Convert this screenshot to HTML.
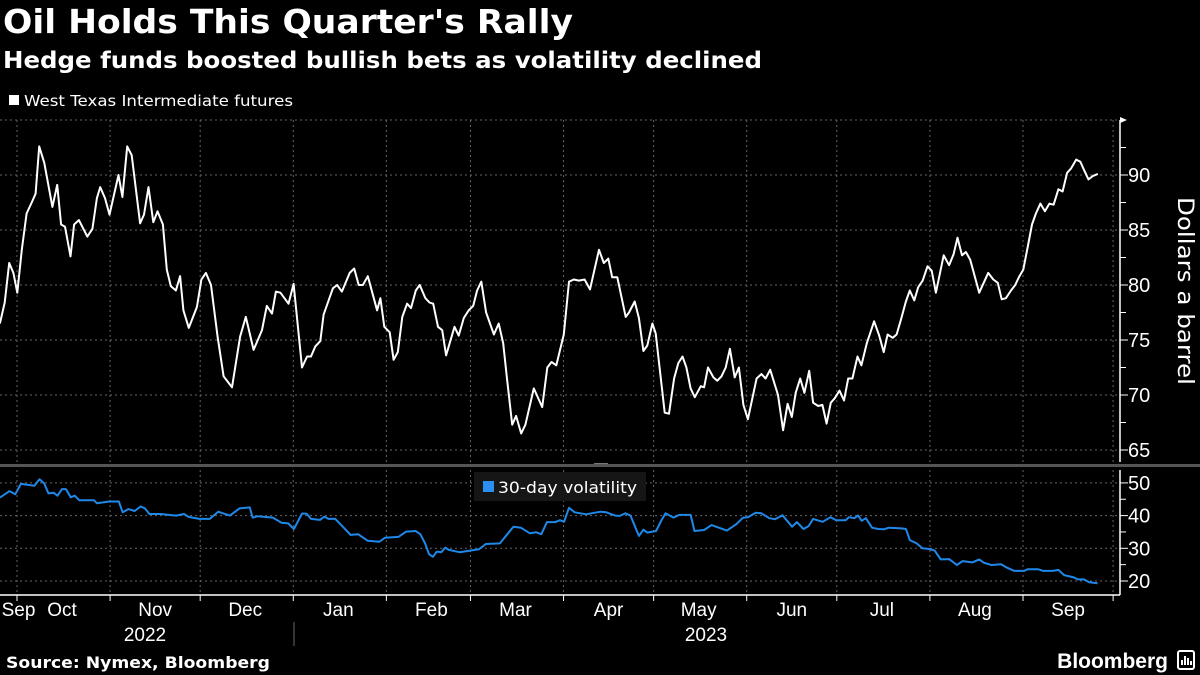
<!DOCTYPE html>
<html><head><meta charset="utf-8"><style>
html,body{margin:0;padding:0;background:#000;width:1200px;height:675px;overflow:hidden}
svg{display:block}
text{font-family:"Liberation Sans",sans-serif}
.dv{font-family:"DejaVu Sans","Liberation Sans",sans-serif}
</style></head><body>
<svg id="c" width="1200" height="675" viewBox="0 0 1200 675">
<text class="dv" x="3" y="33" fill="#fff" font-size="33" font-weight="bold" textLength="570" lengthAdjust="spacingAndGlyphs">Oil Holds This Quarter's Rally</text>
<text class="dv" x="3" y="68" fill="#fff" font-size="23" font-weight="bold" textLength="759" lengthAdjust="spacingAndGlyphs">Hedge funds boosted bullish bets as volatility declined</text>
<rect x="9" y="95" width="10" height="10" fill="#fff"/>
<text class="dv" x="24" y="106" fill="#fff" font-size="15" textLength="269" lengthAdjust="spacingAndGlyphs">West Texas Intermediate futures</text>
<g id="grid"></g>
<g id="axes"></g>
<rect x="0" y="464" width="1200" height="3" fill="#555"/>
<rect x="594" y="463" width="14" height="1" fill="#777"/>
<g id="series"></g>
<rect x="474" y="472" width="172" height="29" fill="#161616"/>
<rect x="483" y="481" width="11" height="11" fill="#2a8ff0"/>
<text class="dv" x="498" y="493" fill="#fff" font-size="16" textLength="139" lengthAdjust="spacingAndGlyphs">30-day volatility</text>
<text class="dv" transform="translate(1178,291) rotate(90)" text-anchor="middle" fill="#fff" font-size="22" textLength="188" lengthAdjust="spacingAndGlyphs">Dollars a barrel</text>
<text x="145" y="641" text-anchor="middle" fill="#fff" font-size="19">2022</text>
<text x="706" y="641" text-anchor="middle" fill="#fff" font-size="19">2023</text>
<line x1="294" y1="622" x2="294" y2="646" stroke="#666"/>
<text class="dv" x="6" y="668" fill="#fff" font-size="16" font-weight="bold" textLength="264" lengthAdjust="spacingAndGlyphs">Source: Nymex, Bloomberg</text>
<text x="1168" y="668" text-anchor="end" fill="#fff" font-size="21" font-weight="bold">Bloomberg</text>
<rect x="1178" y="651" width="16" height="18" rx="2" fill="none" stroke="#fff" stroke-width="2"/>
<path d="M1182 665V660M1185 665V656M1188 665V658M1191 665V661" stroke="#fff" stroke-width="2"/>
</svg>
<script>
const monthLabels=["Sep","Oct","Nov","Dec","Jan","Feb","Mar","Apr","May","Jun","Jul","Aug","Sep"];
const monthLabelDays=[0.5,15,46,76,107,138,166,197,227,258,288,319,350];
const monthTickDays=[0,31,61,92,123,151,182,212,243,273,304,335,365];
const priceTicks=[65,70,75,80,85,90];
const volTicks=[20,30,40,50];
const priceDays=[-5.7,-4.1,-2.6,-1.2,0.1,1.6,3.2,4.9,6.2,7.4,9.1,11.8,13.4,14.7,16,17.8,19,20.6,23.4,25.1,26.6,27.7,29.3,30.8,33.8,35.1,36.7,38.2,41,42.3,43.8,45.4,46.8,48.6,49.9,51.2,52.9,54.3,55.4,57.2,59.9,61.4,62.9,64.6,66.8,68.8,71.6,74.3,76.2,78.8,81.6,83.2,84.9,86.2,87.7,90.4,92.1,94.9,96.6,97.9,99.3,101,102.1,105.2,106.6,108.2,110.8,112.3,113.8,115.2,116.8,119.9,121,122.3,124.1,125.4,126.8,128.3,129.9,131.2,132.8,134.1,136,137.4,138.6,140.2,141.6,142.9,145.7,147.1,148.8,150.4,151.9,153.2,154.6,156.2,158.8,160.4,161.9,163.2,164.9,166.2,167.9,169.3,172.1,174.9,176.6,178,179.6,182.1,183.8,185.4,187.1,189,190.8,193.8,195.4,196.9,198.2,199.9,202.7,203.8,205.7,207.1,208.6,209.9,211.6,212.7,215.7,217.1,218.8,220.2,221.6,222.9,224.3,225.7,227.7,228.8,230.1,231.9,233.2,234.6,236,237.4,239,240.4,241.9,243.4,246.3,247.9,249.3,250.8,253.4,255.1,256.6,258,259.3,260.8,262.2,263.8,265.1,266.8,268.2,269.6,271,272.3,273.9,275.4,276.8,278.2,279.9,281.2,283,285.4,287.1,288.6,289.9,291.6,292.9,294.3,296,297.3,298.8,300.1,301.6,303.2,304.6,306,308.6,310.4,311.9,313.2,314.7,316,317.4,320.4,321.9,323.4,325.1,326.6,327.9,329.3,331,332.4,333.8,335.1,336.6,338,339.3,340.8,342.3,343.8,345.2,346.8,348.2,349.7,351,352.7,354.1,355.4,356.8,358.2,359.9];
const priceValues=[76.5,78.4,82.0,81.1,79.3,83.2,86.5,87.5,88.3,92.6,91.1,87.1,89.1,85.5,85.3,82.6,85.5,85.9,84.4,85.1,87.9,88.9,87.9,86.4,90.0,88.0,92.6,91.8,85.6,86.4,88.9,85.7,86.7,85.5,81.4,79.9,79.5,80.8,77.7,76.1,78.0,80.5,81.1,80.0,75.3,71.7,70.7,75.3,77.1,74.1,75.9,78.1,77.4,79.4,79.3,78.3,80.1,72.5,73.5,73.5,74.4,74.9,77.3,79.7,80.0,79.4,81.1,81.5,80.0,80.0,80.8,77.7,78.8,76.2,75.7,73.2,73.9,77.1,78.3,77.9,79.5,80.0,78.8,78.4,78.3,76.2,75.9,73.6,76.2,75.4,77.0,77.7,78.1,79.5,80.3,77.5,75.5,76.5,74.7,71.4,67.3,68.1,66.5,67.3,70.6,68.9,72.5,73.0,72.7,75.5,80.3,80.5,80.4,80.5,79.6,83.2,82.0,82.4,80.7,80.7,77.1,77.5,78.5,77.0,74.0,74.5,76.5,75.6,68.4,68.3,71.5,72.9,73.5,72.5,70.6,69.8,70.8,70.7,72.5,71.6,71.3,71.7,72.5,74.2,71.6,72.5,69.1,67.8,71.5,71.9,71.5,72.3,70.0,66.8,69.2,68.0,70.2,71.5,70.2,72.2,69.3,69.0,69.1,67.4,69.3,69.7,70.4,69.5,71.5,71.5,73.5,72.7,74.7,76.7,75.4,73.9,75.5,75.2,75.5,76.8,78.5,79.5,78.6,79.8,80.4,81.7,81.3,79.3,82.7,81.8,82.8,84.3,82.7,83.0,82.3,79.3,80.2,81.1,80.5,80.2,78.7,78.8,79.5,80.0,80.8,81.4,83.5,85.5,86.5,87.4,86.7,87.4,87.3,88.7,88.5,90.2,90.6,91.4,91.2,90.4,89.6,89.9,90.1];
const volDays=[-5.7,-2.5,-0.6,1.3,5.8,7.5,9,10.5,12.2,13.5,15,16.3,17.9,19.2,20.7,25.6,26.6,30.7,33.9,35.2,37.1,39.2,41.2,42.6,44.1,47.9,50.5,53,55.6,57.1,60.7,64.2,67,68.6,70.9,74.1,77.5,78.5,80.1,85.2,88.1,90.3,92.2,94.9,96.4,97.9,100.9,102.4,103.7,106,108.5,111.1,113.6,116.8,120.6,122.5,127,129.6,132.7,134.3,135.9,137.2,138.5,139.8,141.3,142.6,143.8,147.4,153.8,156.1,160.8,165.3,167.8,170.8,172.9,174.6,176.5,179.3,180.8,182.2,183.8,185.7,189.5,194.3,196.2,199.2,200.7,202.6,204.3,207.1,208.6,209.9,212.8,214.7,216,218.6,220.5,224.3,225.6,228.8,231.3,236.4,239.6,241.8,243.4,246,247.9,250.5,252.4,254.9,258.1,259.7,261.9,263.6,265.1,268.3,270.9,272.8,276,277,278.8,280.1,281.3,282.7,284.7,286.8,288.7,290.3,294.5,296,297.3,299.6,301.5,303.8,305.6,307.6,310.4,313,314.9,318.1,320.4,321.9,324.5,327.7,329.6,332.1,335.3,336.6,340,341.7,344.9,346.8,348.7,351.9,353.2,355.3,357,359.8];
const volValues=[45.5,47.5,46.5,49.7,49.1,51.1,49.9,46.8,47.0,46.1,48.1,48.1,45.6,46.1,44.7,44.7,43.8,44.3,44.3,41.0,42.0,41.4,42.8,42.2,40.5,40.5,40.2,40.0,40.5,39.6,39.0,39.0,41.2,40.7,40.0,42.2,42.5,39.4,39.8,39.4,37.8,37.6,35.9,40.6,40.6,39.0,38.7,39.7,39.0,39.0,36.6,34.1,34.3,32.3,32.0,33.2,33.5,35.1,35.3,34.3,31.5,28.2,27.4,29.0,28.8,30.2,29.5,28.8,29.7,31.3,31.5,36.6,36.3,34.6,34.9,34.3,38.0,38.0,38.6,38.1,42.4,41.0,40.4,41.2,41.0,40.0,39.9,40.7,40.0,33.8,35.7,34.8,35.3,38.7,40.7,39.4,40.2,40.2,35.3,35.6,37.1,35.4,37.4,39.4,39.5,40.9,40.7,39.2,38.9,40.1,36.6,38.0,35.9,36.8,39.0,38.1,39.5,38.6,38.6,39.5,39.2,40.0,38.4,39.2,36.3,35.9,35.8,36.3,36.1,35.9,32.5,31.5,30.0,29.8,29.3,26.6,26.7,24.9,26.1,25.7,26.6,25.6,24.9,25.1,24.1,23.1,23.1,23.6,23.6,23.1,23.1,23.4,21.8,21.1,20.5,20.5,19.6,19.3];

const NS="http://www.w3.org/2000/svg";
const AX=1120;
const xS=d=>17+d*3.003;
const yP=v=>175+(90-v)*11.0;
const yV=v=>581-(v-20)*3.27;
function mk(tag,attrs,parent){const e=document.createElementNS(NS,tag);for(const k in attrs)e.setAttribute(k,attrs[k]);document.getElementById(parent).appendChild(e);return e;}

monthTickDays.forEach(d=>{
  if(xS(d)>=AX-2)return;
  const g1=mk('line',{x1:xS(d),x2:xS(d),y1:120,y2:462,stroke:'#666','stroke-dasharray':'2,3','stroke-width':1},'grid');
  
  
  const g2=mk('line',{x1:xS(d),x2:xS(d),y1:470,y2:595,stroke:'#666','stroke-dasharray':'2,3','stroke-width':1},'grid');
  
  
});
priceTicks.concat([95]).forEach(v=>{
  const g=mk('line',{x1:0,x2:AX,y1:yP(v),y2:yP(v),stroke:'#666','stroke-dasharray':'2,3'},'grid');
  
  
});
volTicks.forEach(v=>{
  const g=mk('line',{x1:0,x2:AX,y1:yV(v),y2:yV(v),stroke:'#666','stroke-dasharray':'2,3'},'grid');
  
  
});

const a1=mk('line',{x1:AX,x2:AX,y1:120,y2:462,stroke:'#fff','stroke-width':1.5},'axes');


const ar=mk('path',{d:`M${AX} 117 L${AX+7} 120 L${AX} 123 Z`,fill:'#fff'},'axes');


for(let v=65;v<=95;v+=2.5){
  const major=priceTicks.includes(v);
  const t=mk('line',{x1:AX,x2:AX+(major?8:6),y1:yP(v),y2:yP(v),stroke:'#fff'},'axes');
  
  
}
priceTicks.forEach(v=>{
  const t=mk('text',{x:AX+8,y:yP(v)+7,fill:'#fff','font-size':20},'axes');
  t.textContent=v;
  
  
});
const a2=mk('line',{x1:AX,x2:AX,y1:470,y2:595,stroke:'#fff','stroke-width':1.5},'axes');


for(let v=20;v<=50;v+=5){
  const t=mk('line',{x1:AX,x2:AX+(v%10===0?8:6),y1:yV(v),y2:yV(v),stroke:'#fff'},'axes');
  
  
}
volTicks.forEach(v=>{
  const t=mk('text',{x:AX+8,y:yV(v)+7,fill:'#fff','font-size':20},'axes');
  t.textContent=v;
  
  
});
const xa=mk('line',{x1:0,x2:AX,y1:595,y2:595,stroke:'#fff','stroke-width':1.5},'axes');


monthTickDays.forEach(d=>{
  const t=mk('line',{x1:xS(d),x2:xS(d),y1:595,y2:601,stroke:'#fff'},'axes');
  
  
});
monthLabels.forEach((m,i)=>{
  const t=mk('text',{x:xS(monthLabelDays[i]),y:616,fill:'#fff','font-size':19,'text-anchor':'middle'},'axes');
  t.textContent=m;
  
  
});

const pp=priceDays.map((d,i)=>`${i?'L':'M'}${xS(d).toFixed(1)} ${yP(priceValues[i]).toFixed(1)}`).join('');
const pl=mk('path',{d:pp,fill:'none',stroke:'#fff','stroke-width':2,'stroke-linejoin':'round'},'series');


const vp=volDays.map((d,i)=>`${i?'L':'M'}${xS(d).toFixed(1)} ${yV(volValues[i]).toFixed(1)}`).join('');
const vl=mk('path',{d:vp,fill:'none',stroke:'#1f88e8','stroke-width':2,'stroke-linejoin':'round'},'series');


</script>
</body></html>
